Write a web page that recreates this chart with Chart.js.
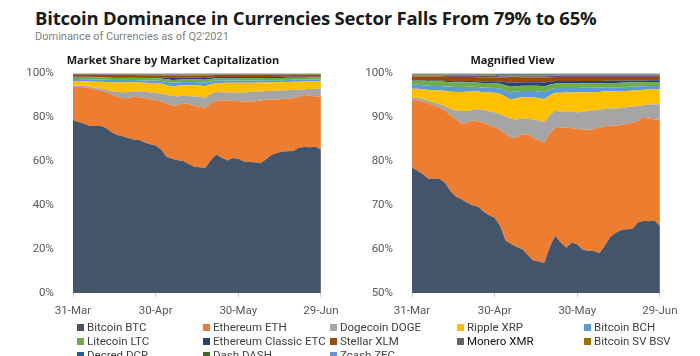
<!DOCTYPE html>
<html>
<head>
<meta charset="utf-8">
<script src="https://cdn.jsdelivr.net/npm/chart.js@4.4.1/dist/chart.umd.min.js"></script>
<style>
  html, body { margin: 0; padding: 0; background: #fff; }
  body { width: 700px; height: 356px; position: relative; overflow: hidden; }
  #title { position: absolute; left: 35px; top: 5px; font: bold 18.5px "Open Sans", sans-serif; color: #1a1a1a; white-space: nowrap; letter-spacing: -0.2px; }
  #subtitle { position: absolute; left: 35px; top: 30px; font: 11px Roboto, sans-serif; color: #7f7f7f; white-space: nowrap; }
  canvas { position: absolute; }
  #c1 { left: 0px; top: 50px; }
  #c2 { left: 340px; top: 50px; }
  .lg { position: absolute; font: 11.5px Roboto, sans-serif; color: #404040; white-space: nowrap; line-height: 14px; }
  .lg span.sq { display: inline-block; width: 7px; height: 7px; margin-right: 3px; vertical-align: 0px; }
</style>
</head>
<body>
<div id="title">Bitcoin Dominance in Currencies Sector Falls From 79% to 65%</div>
<div id="subtitle">Dominance of Currencies as of Q2'2021</div>
<canvas id="c1" width="346" height="276"></canvas>
<canvas id="c2" width="345" height="276"></canvas>
<div id="legend"></div>
<script>
// ---- DATA ----
const dates = ['31-Mar','2-Apr','4-Apr','6-Apr','8-Apr','10-Apr','12-Apr','14-Apr','16-Apr','18-Apr','20-Apr','22-Apr','24-Apr','26-Apr','28-Apr','30-Apr',
  '2-May','4-May','6-May','8-May','10-May','12-May','14-May','16-May','18-May','20-May','22-May','24-May','26-May','28-May','30-May',
  '1-Jun','3-Jun','5-Jun','7-Jun','9-Jun','11-Jun','13-Jun','15-Jun','17-Jun','19-Jun','21-Jun','23-Jun','25-Jun','27-Jun','29-Jun'];
const tickLabels = ['31-Mar','30-Apr','30-May','29-Jun'];
const leftTicks = [0, 20, 40, 60, 80, 100];
const rightTicks = [50, 60, 70, 80, 90, 100];

const seriesNames = ['Bitcoin BTC','Ethereum ETH','Dogecoin DOGE','Ripple XRP','Bitcoin BCH','Litecoin LTC','Ethereum Classic ETC','Stellar XLM','Monero XMR','Bitcoin SV BSV','Decred DCR','Dash DASH','Zcash ZEC'];
const seriesColors = ['#44546A','#ED7D31','#A5A5A5','#FFC000','#5B9BD5','#70AD47','#264478','#9E480E','#636363','#997300','#255E91','#43682B','#698ED0'];

const btc  = [78.5,77.6,76.8,75.5,75.5,75.2,74.4,72.5,71.0,70.5,69.8,69.1,69.4,68.3,67.5,66.9,65.2,62.0,61.1,60.6,60.2,58.6,57.4,57.3,57.0,60.8,63.0,61.3,60.0,61.2,60.8,59.6,59.4,59.4,58.9,60.5,62.5,63.5,64.0,64.2,64.2,65.8,66.2,66.0,66.2,65.0];
const eth  = [15.3,16.0,16.5,17.1,16.4,16.1,16.2,17.1,17.3,17.0,18.0,19.2,19.3,20.2,20.4,20.6,21.8,24.3,24.1,25.0,26.1,27.4,27.8,27.6,27.4,26.0,24.5,26.0,27.2,25.9,26.1,27.1,27.4,27.6,28.4,27.0,25.1,24.2,23.8,23.8,24.0,23.0,23.6,23.2,22.9,23.9];
const doge = [0.5,0.5,0.6,0.6,0.7,0.7,1.0,1.4,2.0,2.8,2.7,2.3,2.8,2.9,3.1,3.3,3.5,4.0,4.4,4.0,3.7,3.5,4.2,4.5,4.6,4.2,3.9,3.7,3.6,3.7,3.8,4.0,4.3,4.3,4.1,3.9,3.9,3.9,3.8,3.8,3.7,3.3,2.6,3.2,3.4,3.6];
const xrp  = [2.1,2.1,2.2,2.4,2.8,3.1,3.5,3.9,4.2,4.3,4.3,4.2,4.0,4.0,4.3,4.4,4.7,4.4,4.3,4.9,4.8,4.9,5.0,5.1,5.3,4.5,4.1,4.2,4.3,4.4,4.5,4.5,4.2,4.1,4.0,4.0,3.9,3.9,3.8,3.7,3.6,3.6,3.5,3.4,3.3,3.3];
const bch  = [0.9,0.9,0.9,1.0,1.0,1.0,1.0,1.1,1.1,1.1,1.1,1.0,1.0,1.0,1.1,1.1,1.2,1.4,1.6,1.5,1.4,1.4,1.5,1.5,1.6,1.3,1.1,1.1,1.0,1.0,1.0,1.0,1.0,1.0,1.0,0.9,0.9,0.9,0.9,0.9,0.9,0.9,0.8,0.8,0.8,0.8];
const ltc  = [0.9,0.9,1.0,1.0,1.0,1.0,1.0,1.0,1.0,1.0,1.0,1.0,1.0,1.1,1.1,1.1,1.1,1.3,1.3,1.2,1.2,1.2,1.2,1.3,1.3,1.1,1.0,1.0,1.0,1.0,1.0,1.0,1.0,1.0,1.0,1.0,1.0,1.0,1.0,1.0,0.9,0.9,0.9,0.9,0.9,0.9];
const etc  = [0.15,0.15,0.15,0.15,0.2,0.2,0.2,0.3,0.3,0.3,0.3,0.3,0.35,0.4,0.4,0.45,0.5,0.7,0.9,0.9,0.8,0.8,0.8,0.8,0.9,0.7,0.6,0.6,0.6,0.6,0.6,0.55,0.55,0.55,0.5,0.5,0.5,0.5,0.5,0.45,0.45,0.45,0.4,0.4,0.4,0.4];
const xlm  = [0.8,0.8,0.8,0.85,0.9,0.9,0.9,0.9,0.95,0.95,0.9,0.9,0.9,0.9,0.9,0.9,0.9,1.0,1.1,1.0,1.0,1.0,1.0,1.0,1.1,1.0,0.9,0.9,0.9,0.9,0.9,0.9,0.9,0.9,0.9,0.85,0.85,0.85,0.8,0.8,0.8,0.8,0.8,0.75,0.75,0.75];
const xmr  = [0.25,0.25,0.25,0.25,0.25,0.25,0.25,0.25,0.25,0.25,0.25,0.25,0.3,0.3,0.3,0.3,0.3,0.35,0.35,0.35,0.35,0.35,0.35,0.35,0.35,0.3,0.3,0.3,0.3,0.3,0.3,0.3,0.3,0.3,0.3,0.3,0.3,0.3,0.3,0.3,0.3,0.3,0.3,0.3,0.3,0.3];
const bsv  = [0.25,0.25,0.25,0.25,0.25,0.25,0.25,0.25,0.25,0.25,0.25,0.25,0.25,0.25,0.25,0.25,0.25,0.25,0.3,0.3,0.25,0.25,0.25,0.25,0.25,0.2,0.2,0.2,0.2,0.2,0.2,0.2,0.2,0.2,0.2,0.2,0.2,0.2,0.2,0.2,0.2,0.2,0.2,0.2,0.2,0.2];
const dcr  = [0.08,0.08,0.08,0.08,0.08,0.08,0.1,0.1,0.1,0.1,0.1,0.1,0.1,0.1,0.1,0.1,0.12,0.12,0.12,0.12,0.12,0.12,0.12,0.12,0.12,0.12,0.1,0.1,0.1,0.1,0.1,0.1,0.1,0.1,0.1,0.1,0.1,0.1,0.1,0.1,0.1,0.1,0.1,0.1,0.1,0.1];
const dash = [0.12,0.12,0.12,0.12,0.12,0.12,0.15,0.15,0.15,0.15,0.15,0.15,0.15,0.15,0.15,0.15,0.2,0.2,0.2,0.2,0.2,0.2,0.2,0.2,0.2,0.2,0.15,0.15,0.15,0.15,0.15,0.15,0.15,0.15,0.15,0.15,0.15,0.15,0.15,0.15,0.15,0.15,0.15,0.15,0.15,0.15];
const zec  = [0.07,0.07,0.07,0.07,0.07,0.07,0.1,0.1,0.1,0.1,0.1,0.1,0.1,0.1,0.1,0.1,0.12,0.12,0.12,0.12,0.12,0.12,0.12,0.12,0.12,0.12,0.1,0.1,0.1,0.1,0.1,0.1,0.1,0.1,0.1,0.1,0.1,0.1,0.1,0.1,0.1,0.1,0.1,0.1,0.1,0.1];

const seriesValues = [btc, eth, doge, xrp, bch, ltc, etc, xlm, xmr, bsv, dcr, dash, zec];

// 100% stacked: normalise each date's shares to sum to 100
const totals = dates.map((_, i) => seriesValues.reduce((s, arr) => s + arr[i], 0));
const normalised = seriesValues.map(arr => arr.map((v, i) => v / totals[i] * 100));

function makeDatasets() {
  return normalised.map((vals, k) => ({
    label: seriesNames[k],
    data: vals,
    backgroundColor: seriesColors[k],
    borderColor: seriesColors[k],
    borderWidth: 0,
    pointRadius: 0,
    tension: 0,
    fill: k === 0 ? 'origin' : '-1'
  }));
}

function makeChart(id, titleText, yMin, yTicks, yWidth) {
  return new Chart(document.getElementById(id), {
    type: 'line',
    data: { labels: dates, datasets: makeDatasets() },
    options: {
      responsive: false,
      animation: false,
      devicePixelRatio: 1,
      layout: { padding: { left: 0, right: 0, top: 0, bottom: 0 } },
      plugins: {
        legend: { display: false },
        tooltip: { enabled: false },
        title: {
          display: true, text: titleText, color: '#1a1a1a',
          font: { family: '"Open Sans", sans-serif', size: 11, weight: 'bold' },
          padding: { top: 4, bottom: 6 }
        }
      },
      scales: {
        x: {
          offset: false,
          border: { display: false },
          grid: {
            display: true, drawOnChartArea: false, drawTicks: true, tickLength: 4,
            color: ctx => (ctx.tick && tickLabels.includes(ctx.tick.label)) ? '#d0d0d0' : 'rgba(0,0,0,0)'
          },
          ticks: {
            autoSkip: false, maxRotation: 0, minRotation: 0, padding: 7.5,
            color: '#595959', font: { family: 'Roboto, sans-serif', size: 11.5 },
            callback: (v, i) => tickLabels.includes(dates[i]) ? dates[i] : ''
          }
        },
        y: {
          stacked: true,
          min: yMin, max: 100,
          afterFit: s => { s.width = yWidth; },
          afterBuildTicks: s => { s.ticks = yTicks.map(v => ({ value: v })); },
          border: { display: false },
          grid: { display: false },
          ticks: {
            padding: 11, color: '#595959',
            font: { family: 'Roboto, sans-serif', size: 11.5 },
            callback: v => v + '%'
          }
        }
      }
    }
  });
}

makeChart('c1', 'Market Share by Market Capitalization', 0, leftTicks, 73);
makeChart('c2', 'Magnified View', 50, rightTicks, 72);

// ---- HTML legend (3 rows x 5 columns, cut by the page bottom) ----
const colX = [77, 203, 330, 457, 584];
const rowY = [320, 334, 348];
const legend = document.getElementById('legend');
seriesNames.forEach((name, k) => {
  const d = document.createElement('div');
  d.className = 'lg';
  d.style.left = colX[k % 5] + 'px';
  d.style.top = rowY[Math.floor(k / 5)] + 'px';
  if (name === 'Monero XMR') d.style.color = '#111';
  d.innerHTML = '<span class="sq" style="background:' + seriesColors[k] + '"></span>' + name;
  legend.appendChild(d);
});
</script>
</body>
</html>
